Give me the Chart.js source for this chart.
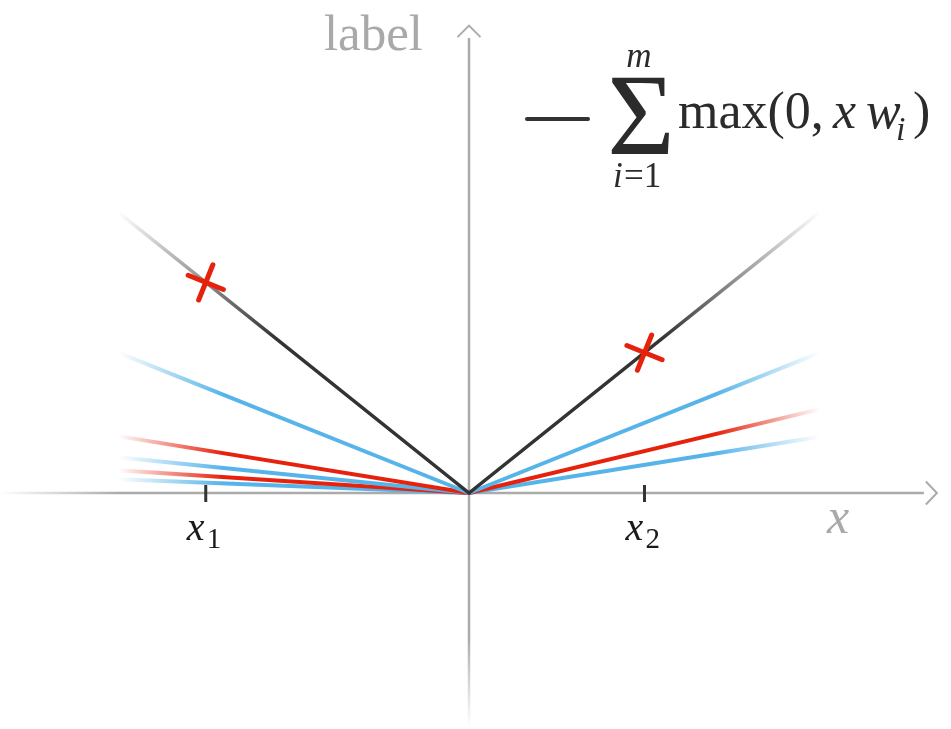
<!DOCTYPE html>
<html>
<head>
<meta charset="utf-8">
<script src="https://cdn.jsdelivr.net/npm/chart.js@4.4.1/dist/chart.umd.min.js"></script>
<style>
  html, body { margin: 0; padding: 0; background: #ffffff; }
  #wrap { width: 951px; height: 729px; }
</style>
</head>
<body>
<div id="wrap"><canvas id="c" width="951" height="729"></canvas></div>
<script>
// ---------------- data ----------------
const sumX = [-1, 0, 1];
const sumValues = [0.80, 0, 0.80];               // black: -sum of hinges
const hingeSide = [-1, -1, -1, -1, -1, 1, 1, 1];   // where each hinge is active
const hingeEndValue = [0.40, 0.162, 0.102, 0.065, 0.039, 0.40, 0.239, 0.16];
const hingeGroup = ['blue', 'red', 'blue', 'red', 'blue', 'blue', 'red', 'blue'];
const markX = [-0.75, 0.5];
const markY = [0.60, 0.40];
const tickBase = ['x', 'x'];
const tickSub = ['1', '2'];
const axisExtent = 1.296;         // where the drawn axis lines stop
const axisBottom = -0.667;
const yAxisTitle = 'label';
const xAxisTitle = 'x';

// ---------------- styles ----------------
const COLORS = { blue: [86, 180, 233], red: [230, 33, 12], black: [51, 51, 51] };
const AXIS_GRAY = '#ababab';
const SERIF = '"Liberation Serif", "DejaVu Serif", serif';

function rgba(c, a) { return 'rgba(' + c[0] + ',' + c[1] + ',' + c[2] + ',' + a + ')'; }
function fade(chart, c, L) {
  const xs = chart.scales.x;
  if (!xs || !chart.chartArea) return rgba(c, 1);
  const a = xs.getPixelForValue(-1), b = xs.getPixelForValue(1);
  const g = chart.ctx.createLinearGradient(a, 0, b, 0);
  const f = L / 2;
  g.addColorStop(0, rgba(c, 0));
  g.addColorStop(f, rgba(c, 1));
  g.addColorStop(1 - f, rgba(c, 1));
  g.addColorStop(1, rgba(c, 0));
  return g;
}

const datasets = [];
// crosses (on top)
datasets.push({
  label: 'marks',
  data: markX.map((x, i) => ({ x: x, y: markY[i] })),
  showLine: false,
  pointStyle: 'cross',
  pointRadius: 19,
  pointRotation: 22,
  pointBorderWidth: 5,
  pointBorderColor: rgba(COLORS.red, 1),
  pointBackgroundColor: rgba(COLORS.red, 1),
  isMarks: true
});
// black sum line
datasets.push({
  label: 'sum',
  data: sumX.map((x, i) => ({ x: x, y: sumValues[i] })),
  showLine: true,
  borderWidth: 3.5,
  borderColor: (ctx) => fade(ctx.chart, COLORS.black, 0.45),
  pointRadius: 0,
  tension: 0
});
// hinge lines
hingeEndValue.forEach((v, i) => {
  const s = hingeSide[i];
  datasets.push({
    label: 'hinge' + i,
    data: s < 0 ? [{ x: -1, y: v }, { x: 0, y: 0 }] : [{ x: 0, y: 0 }, { x: 1, y: v }],
    showLine: true,
    borderWidth: 4,
    borderColor: (ctx) => fade(ctx.chart, COLORS[hingeGroup[i]], 0.3),
    pointRadius: 0,
    tension: 0
  });
});

const decorPlugin = {
  id: 'decor',
  beforeDatasetsDraw(chart) {
    const ctx = chart.ctx, xs = chart.scales.x, ys = chart.scales.y;
    const x0 = xs.getPixelForValue(0), y0 = ys.getPixelForValue(0);
    const xL = xs.left, xR = xs.getPixelForValue(axisExtent);
    const yT = ys.getPixelForValue(axisExtent), yB = ys.getPixelForValue(axisBottom);
    ctx.save();
    ctx.lineWidth = 2.5;
    // x axis with fade on left
    let g = ctx.createLinearGradient(xL, 0, xL + 120, 0);
    g.addColorStop(0, 'rgba(171,171,171,0)');
    g.addColorStop(1, 'rgba(171,171,171,1)');
    ctx.strokeStyle = g;
    ctx.beginPath(); ctx.moveTo(xL, y0); ctx.lineTo(xR, y0); ctx.stroke();
    // y axis with fade at bottom
    g = ctx.createLinearGradient(0, yB, 0, yB - 90);
    g.addColorStop(0, 'rgba(171,171,171,0)');
    g.addColorStop(1, 'rgba(171,171,171,1)');
    ctx.strokeStyle = g;
    ctx.beginPath(); ctx.moveTo(x0, yB); ctx.lineTo(x0, yT); ctx.stroke();
    // arrows (chevrons)
    ctx.strokeStyle = AXIS_GRAY;
    ctx.lineWidth = 2;
    ctx.lineJoin = 'miter';
    ctx.beginPath();
    ctx.moveTo(xR + 2, y0 - 11.5); ctx.lineTo(xR + 13, y0); ctx.lineTo(xR + 2, y0 + 11.5);
    ctx.stroke();
    ctx.beginPath();
    ctx.moveTo(x0 - 11.5, yT - 1); ctx.lineTo(x0, yT - 12.5); ctx.lineTo(x0 + 11.5, yT - 1);
    ctx.stroke();
    // ticks at marks
    ctx.strokeStyle = '#333333';
    ctx.lineWidth = 3;
    markX.forEach((mx) => {
      const px = xs.getPixelForValue(mx);
      ctx.beginPath(); ctx.moveTo(px, y0 - 8); ctx.lineTo(px, y0 + 9); ctx.stroke();
    });
    ctx.restore();
  },
  beforeDatasetDraw(chart, args) {
    const ds = chart.data.datasets[args.index];
    chart.ctx.lineCap = ds.isMarks ? 'round' : 'butt';
  },
  afterDraw(chart) {
    const ctx = chart.ctx, xs = chart.scales.x, ys = chart.scales.y;
    const x0 = xs.getPixelForValue(0), y0 = ys.getPixelForValue(0);
    const yT = ys.getPixelForValue(axisExtent), xR = xs.getPixelForValue(axisExtent);
    ctx.save();
    ctx.textBaseline = 'alphabetic';
    // axis titles
    ctx.fillStyle = '#a9a9a9';
    ctx.textAlign = 'right';
    ctx.font = '51px ' + SERIF;
    ctx.fillText(yAxisTitle, x0 - 46, yT + 12);
    ctx.textAlign = 'left';
    ctx.font = 'italic 50px ' + SERIF;
    ctx.fillText(xAxisTitle, xR - 97, y0 + 40);
    // tick labels
    ctx.fillStyle = '#1a1a1a';
    markX.forEach((mx, i) => {
      const px = xs.getPixelForValue(mx);
      ctx.font = 'italic 40px ' + SERIF;
      ctx.textAlign = 'left';
      ctx.fillText(tickBase[i], px - 19, y0 + 47);
      ctx.font = '29px ' + SERIF;
      ctx.fillText(tickSub[i], px + 1, y0 + 55);
    });
    // legend: dash + formula
    ctx.strokeStyle = rgba(COLORS.black, 1);
    ctx.lineWidth = 4;
    ctx.beginPath(); ctx.moveTo(527, 119); ctx.lineTo(588, 119); ctx.stroke();
    ctx.fillStyle = '#2b2b2b';
    ctx.font = '116px ' + SERIF;
    ctx.textAlign = 'center';
    ctx.fillText('\u03A3', 641, 154);
    ctx.font = 'italic 35px ' + SERIF;
    ctx.fillText('m', 639, 67);
    ctx.textAlign = 'left';
    ctx.fillText('i', 613, 187);
    ctx.font = '35px ' + SERIF;
    ctx.fillText('=1', 624, 187);
    ctx.font = '52px ' + SERIF;
    ctx.fillText('max(0,', 678, 128);
    ctx.font = 'italic 52px ' + SERIF;
    ctx.fillText('x', 833, 128);
    ctx.fillText('w', 866, 128);
    ctx.font = 'italic 34px ' + SERIF;
    ctx.fillText('i', 896, 140);
    ctx.font = '52px ' + SERIF;
    ctx.fillText(')', 913, 128);
    ctx.restore();
  }
};

new Chart(document.getElementById('c'), {
  type: 'scatter',
  data: { datasets: datasets },
  options: {
    responsive: false,
    animation: false,
    devicePixelRatio: 1,
    events: [],
    layout: { padding: 0, autoPadding: false },
    plugins: { legend: { display: false }, tooltip: { enabled: false } },
    scales: {
      x: { type: 'linear', min: -1.3362, max: 1.3732, display: false },
      y: { type: 'linear', min: -0.6724, max: 1.4046, display: false }
    }
  },
  plugins: [decorPlugin]
});
</script>
</body>
</html>
